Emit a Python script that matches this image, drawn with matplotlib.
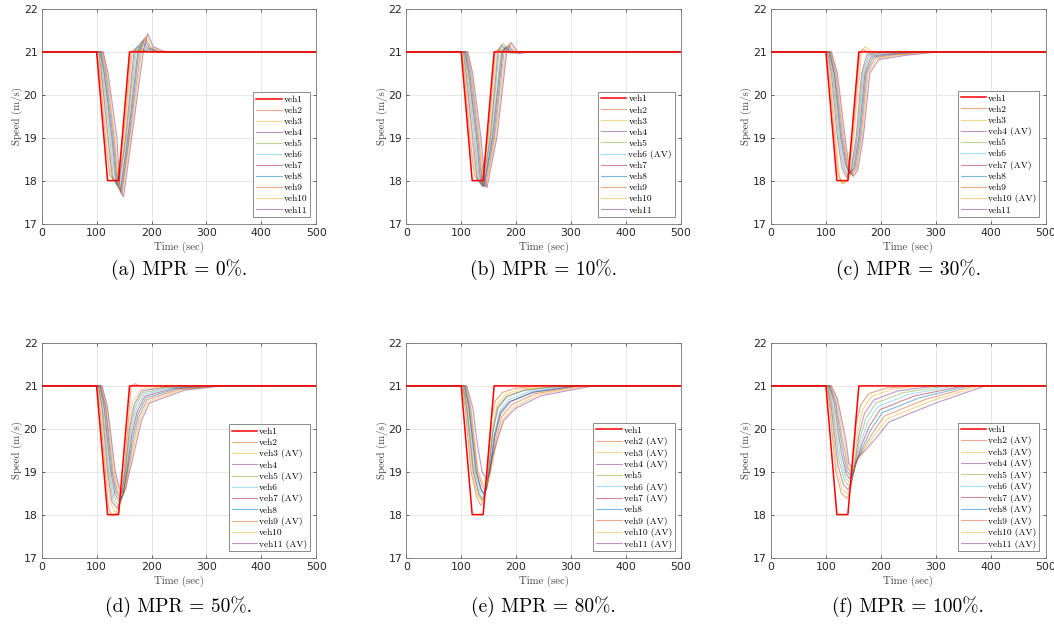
"""Speed profiles of an 11-vehicle platoon for several AV penetration rates (MPR)."""
import matplotlib
matplotlib.use("Agg")
import matplotlib.pyplot as plt

# ---- data ----
# leader (veh1) is the same in every panel
LEAD_T = [0, 100, 120, 140, 160, 500]
LEAD_V = [21, 21, 18, 18, 21, 21]

# panel (a) MPR = 0%, followers veh2..veh11
A_T = [
    [0, 101, 106, 116, 124, 137, 149, 163, 168, 178, 195, 500],
    [0, 102, 108, 119, 127, 139, 151, 165, 171, 181, 198, 500],
    [0, 104, 109, 121, 129, 140, 153, 168, 174, 184, 201, 500],
    [0, 105, 111, 124, 131, 141, 154, 170, 177, 187, 204, 500],
    [0, 106, 113, 126, 134, 143, 156, 172, 180, 190, 207, 500],
    [0, 107, 114, 128, 136, 144, 157, 175, 183, 193, 210, 500],
    [0, 108, 116, 130, 138, 145, 159, 177, 186, 196, 213, 500],
    [0, 110, 118, 132, 140, 146, 160, 180, 188, 198, 216, 500],
    [0, 111, 119, 134, 141, 147, 162, 182, 190, 200, 220, 500],
    [0, 112, 121, 137, 143, 149, 164, 185, 193, 203, 225, 500],
]
A_V = [
    [21, 21, 20.5, 19, 18.12, 17.98, 19, 21, 21.05, 21.02, 21, 21],
    [21, 21, 20.5, 19, 18.08, 17.94, 19, 21, 21.09, 21.03, 21, 21],
    [21, 21, 20.5, 19, 18.04, 17.90, 19, 21, 21.13, 21.04, 21, 21],
    [21, 21, 20.5, 19, 18.00, 17.86, 19, 21, 21.18, 21.05, 21, 21],
    [21, 21, 20.5, 19, 17.96, 17.82, 19, 21, 21.22, 21.07, 21, 21],
    [21, 21, 20.5, 19, 17.92, 17.78, 19, 21, 21.26, 21.08, 21, 21],
    [21, 21, 20.5, 19, 17.88, 17.74, 19, 21, 21.30, 21.09, 21, 21],
    [21, 21, 20.5, 19, 17.84, 17.70, 19, 21, 21.34, 21.10, 21, 21],
    [21, 21, 20.5, 19, 17.80, 17.66, 19, 21, 21.38, 21.11, 21, 21],
    [21, 21, 20.5, 19, 17.76, 17.62, 19, 21, 21.43, 21.12, 21, 21],
]

# panel (b) MPR = 10%
B_T = [
    [0, 101, 106, 116, 124, 135, 149, 162, 167, 177, 190, 500],
    [0, 102, 108, 119, 127, 137, 151, 165, 170, 182, 195, 500],
    [0, 104, 109, 121, 129, 138, 153, 167, 173, 186, 200, 500],
    [0, 105, 111, 124, 131, 139, 154, 169, 176, 189, 205, 500],
    [0, 106, 113, 126, 133, 140, 156, 172, 179, 192, 210, 500],
    [0, 107, 114, 128, 135, 141, 157, 174, 181, 194, 212, 500],
    [0, 108, 116, 130, 137, 142, 159, 176, 184, 197, 215, 500],
    [0, 110, 118, 132, 139, 144, 161, 178, 186, 199, 218, 500],
    [0, 111, 119, 134, 141, 145, 163, 181, 189, 202, 222, 500],
    [0, 112, 121, 136, 143, 147, 165, 183, 191, 205, 228, 500],
]
B_V = [
    [21, 21, 20.5, 19, 18.12, 17.96, 19, 21, 21.06, 21.00, 21, 21],
    [21, 21, 20.5, 19, 18.07, 17.92, 19, 21, 21.11, 20.99, 21, 21],
    [21, 21, 20.5, 19, 18.03, 17.89, 19, 21, 21.16, 20.98, 21, 21],
    [21, 21, 20.5, 19, 18.00, 17.86, 19, 21, 21.20, 20.97, 21, 21],
    [21, 21, 20.5, 19, 17.98, 17.85, 19, 21, 21.12, 20.98, 21, 21],
    [21, 21, 20.5, 19, 17.98, 17.86, 19, 21, 21.10, 20.98, 21, 21],
    [21, 21, 20.5, 19, 17.99, 17.87, 19, 21, 21.13, 20.98, 21, 21],
    [21, 21, 20.5, 19, 17.98, 17.86, 19, 21, 21.16, 20.97, 21, 21],
    [21, 21, 20.5, 19, 17.97, 17.85, 19, 21, 21.19, 20.97, 21, 21],
    [21, 21, 20.5, 19, 17.96, 17.84, 19, 21, 21.22, 20.96, 21, 21],
]

# panel (c) MPR = 30%
C_T = [
    [0, 101, 106, 116, 122, 129, 140, 149, 162, 167, 178, 500],
    [0, 102, 108, 118, 125, 131, 142, 151, 165, 171, 185, 500],
    [0, 103, 110, 121, 129, 137, 145, 155, 165, 175, 195, 240, 500],
    [0, 104, 112, 123, 132, 139, 147, 157, 167, 178, 200, 250, 500],
    [0, 105, 113, 125, 134, 141, 149, 158, 169, 180, 205, 260, 500],
    [0, 106, 115, 127, 136, 143, 151, 160, 171, 183, 215, 270, 500],
    [0, 107, 116, 129, 138, 145, 153, 162, 173, 186, 220, 280, 500],
    [0, 108, 118, 131, 140, 146, 155, 164, 175, 189, 225, 285, 500],
    [0, 109, 119, 133, 141, 148, 156, 166, 177, 192, 235, 295, 500],
    [0, 110, 121, 135, 143, 150, 158, 168, 180, 196, 245, 305, 500],
]
C_V = [
    [21, 21, 20.5, 19, 18.15, 17.94, 18.00, 19, 21, 21.06, 21, 21],
    [21, 21, 20.5, 19, 18.10, 17.92, 18.05, 19, 21, 21.12, 21, 21],
    [21, 21, 20.5, 19, 18.30, 18.08, 18.20, 19, 20.5, 20.95, 20.98, 21, 21],
    [21, 21, 20.5, 19, 18.30, 18.12, 18.25, 19, 20.5, 20.93, 20.97, 21, 21],
    [21, 21, 20.5, 19, 18.30, 18.14, 18.30, 19, 20.5, 20.92, 20.96, 21, 21],
    [21, 21, 20.5, 19, 18.35, 18.16, 18.30, 19, 20.5, 20.90, 20.95, 21, 21],
    [21, 21, 20.5, 19, 18.33, 18.15, 18.30, 19, 20.5, 20.88, 20.94, 21, 21],
    [21, 21, 20.5, 19, 18.30, 18.13, 18.28, 19, 20.5, 20.86, 20.93, 21, 21],
    [21, 21, 20.5, 19, 18.28, 18.11, 18.26, 19, 20.5, 20.84, 20.93, 21, 21],
    [21, 21, 20.5, 19, 18.25, 18.10, 18.24, 19, 20.5, 20.82, 20.92, 21, 21],
]

# panel (d) MPR = 50%
D_T = [
    [0, 101, 106, 116, 122, 128, 140, 150, 163, 170, 180, 500],
    [0, 102, 108, 118, 126, 134, 142, 151, 158, 165, 180, 220, 280, 500],
    [0, 103, 110, 120, 128, 137, 144, 152, 160, 168, 182, 225, 290, 500],
    [0, 104, 111, 122, 130, 139, 146, 153, 161, 170, 184, 230, 300, 500],
    [0, 105, 113, 124, 132, 141, 147, 154, 163, 172, 186, 235, 305, 500],
    [0, 106, 114, 126, 134, 142, 148, 155, 164, 174, 188, 240, 310, 500],
    [0, 107, 116, 128, 136, 144, 149, 156, 166, 176, 190, 245, 315, 500],
    [0, 108, 117, 130, 138, 145, 150, 157, 168, 178, 192, 250, 320, 500],
    [0, 109, 119, 132, 140, 146, 151, 158, 170, 180, 194, 255, 325, 500],
    [0, 110, 120, 134, 142, 148, 153, 160, 172, 182, 196, 260, 330, 500],
]
D_V = [
    [21, 21, 20.5, 19, 18.15, 17.97, 18.05, 19, 21, 21.05, 21, 21],
    [21, 21, 20.5, 19, 18.25, 18.05, 18.20, 19, 20.00, 20.60, 20.92, 20.98, 21, 21],
    [21, 21, 20.5, 19, 18.30, 18.15, 18.30, 19, 20.00, 20.55, 20.88, 20.97, 21, 21],
    [21, 21, 20.5, 19, 18.35, 18.22, 18.35, 19, 19.95, 20.50, 20.84, 20.96, 21, 21],
    [21, 21, 20.5, 19, 18.40, 18.28, 18.40, 19, 19.90, 20.45, 20.80, 20.95, 21, 21],
    [21, 21, 20.5, 19, 18.45, 18.33, 18.45, 19, 19.85, 20.40, 20.76, 20.94, 21, 21],
    [21, 21, 20.5, 19, 18.50, 18.38, 18.48, 19, 19.80, 20.35, 20.72, 20.93, 21, 21],
    [21, 21, 20.5, 19, 18.53, 18.42, 18.52, 19, 19.75, 20.30, 20.68, 20.92, 21, 21],
    [21, 21, 20.5, 19, 18.56, 18.45, 18.55, 19, 19.70, 20.25, 20.64, 20.91, 21, 21],
    [21, 21, 20.5, 19, 18.60, 18.50, 18.60, 19, 19.65, 20.20, 20.60, 20.90, 21, 21],
]

# panel (e) MPR = 80%
E_T = [
    [0, 101, 107, 118, 128, 136, 141, 148, 155, 162, 175, 200, 250, 500],
    [0, 102, 109, 120, 130, 137, 142, 149, 157, 165, 180, 210, 270, 500],
    [0, 103, 110, 122, 132, 138, 143, 150, 158, 167, 183, 215, 285, 500],
    [0, 104, 111, 123, 132, 139, 143, 150, 158, 166, 182, 215, 290, 500],
    [0, 105, 113, 125, 134, 140, 145, 151, 160, 170, 186, 225, 300, 500],
    [0, 106, 114, 127, 136, 141, 146, 152, 161, 172, 189, 230, 310, 500],
    [0, 107, 115, 128, 136, 142, 146, 152, 161, 171, 188, 230, 310, 500],
    [0, 108, 117, 130, 138, 143, 147, 153, 163, 174, 192, 235, 320, 500],
    [0, 109, 118, 131, 139, 144, 148, 154, 165, 176, 195, 240, 330, 500],
    [0, 110, 121, 130, 138, 146, 150, 156, 167, 178, 198, 245, 340, 500],
]
E_V = [
    [21, 21, 20.5, 19, 18.40, 18.22, 18.30, 19, 20.20, 20.65, 20.85, 20.95, 21, 21],
    [21, 21, 20.5, 19, 18.45, 18.30, 18.40, 19, 20.05, 20.55, 20.80, 20.93, 21, 21],
    [21, 21, 20.5, 19, 18.50, 18.37, 18.47, 19, 19.95, 20.48, 20.75, 20.90, 21, 21],
    [21, 21, 20.5, 19, 18.45, 18.33, 18.45, 19, 20.00, 20.50, 20.75, 20.90, 21, 21],
    [21, 21, 20.5, 19, 18.55, 18.45, 18.55, 19, 19.85, 20.40, 20.68, 20.87, 21, 21],
    [21, 21, 20.5, 19, 18.60, 18.50, 18.60, 19, 19.80, 20.35, 20.63, 20.85, 21, 21],
    [21, 21, 20.5, 19, 18.58, 18.47, 18.58, 19, 19.85, 20.38, 20.63, 20.85, 21, 21],
    [21, 21, 20.5, 19, 18.67, 18.58, 18.67, 19, 19.75, 20.28, 20.56, 20.82, 21, 21],
    [21, 21, 20.5, 19, 18.74, 18.65, 18.74, 19, 19.70, 20.22, 20.50, 20.80, 21, 21],
    [21, 21, 20.5, 19.6, 19.00, 18.82, 18.90, 19.3, 19.80, 20.20, 20.47, 20.77, 21, 21],
]

# panel (f) MPR = 100%
F_T = [
    [0, 101, 107, 118, 128, 138, 142, 148, 155, 163, 178, 210, 260, 500],
    [0, 102, 109, 120, 130, 139, 144, 150, 158, 167, 183, 220, 280, 500],
    [0, 103, 110, 122, 132, 140, 145, 151, 160, 170, 187, 230, 300, 500],
    [0, 104, 112, 124, 134, 141, 146, 152, 162, 173, 191, 240, 320, 500],
    [0, 105, 113, 126, 135, 142, 147, 153, 164, 176, 195, 250, 335, 500],
    [0, 106, 115, 128, 137, 143, 148, 154, 166, 179, 199, 260, 350, 500],
    [0, 107, 117, 130, 138, 144, 149, 155, 168, 182, 203, 270, 360, 500],
    [0, 108, 118, 132, 140, 145, 150, 156, 170, 185, 207, 280, 370, 500],
    [0, 109, 120, 134, 141, 146, 151, 157, 172, 188, 211, 290, 380, 500],
    [0, 110, 121, 136, 142, 147, 152, 158, 174, 191, 215, 300, 390, 500],
]
F_V = [
    [21, 21, 20.5, 19.00, 18.50, 18.38, 18.45, 19.00, 20.10, 20.55, 20.82, 20.95, 21, 21],
    [21, 21, 20.5, 19.05, 18.60, 18.48, 18.55, 19.00, 19.95, 20.45, 20.75, 20.92, 21, 21],
    [21, 21, 20.5, 19.15, 18.70, 18.58, 18.65, 19.00, 19.85, 20.35, 20.67, 20.88, 21, 21],
    [21, 21, 20.5, 19.25, 18.80, 18.67, 18.74, 19.05, 19.78, 20.25, 20.60, 20.84, 21, 21],
    [21, 21, 20.55, 19.35, 18.88, 18.76, 18.82, 19.10, 19.70, 20.15, 20.52, 20.80, 21, 21],
    [21, 21, 20.6, 19.45, 18.95, 18.84, 18.90, 19.15, 19.65, 20.06, 20.45, 20.76, 21, 21],
    [21, 21, 20.62, 19.55, 19.02, 18.92, 18.97, 19.20, 19.60, 19.98, 20.38, 20.72, 21, 21],
    [21, 21, 20.65, 19.62, 19.08, 18.98, 19.03, 19.25, 19.57, 19.90, 20.30, 20.68, 21, 21],
    [21, 21, 20.68, 19.70, 19.14, 19.04, 19.08, 19.28, 19.55, 19.84, 20.23, 20.64, 21, 21],
    [21, 21, 20.7, 19.77, 19.20, 19.10, 19.14, 19.32, 19.53, 19.78, 20.16, 20.60, 21, 21],
]

# which followers are automated in each panel
AV_SETS = [[], [6], [4, 7, 10], [3, 5, 7, 9, 11], [2, 3, 4, 6, 7, 9, 10, 11],
           [2, 3, 4, 5, 6, 7, 8, 9, 10, 11]]
CAPTIONS = ["(a) MPR = 0%.", "(b) MPR = 10%.", "(c) MPR = 30%.",
            "(d) MPR = 50%.", "(e) MPR = 80%.", "(f) MPR = 100%."]
PANELS = [(A_T, A_V), (B_T, B_V), (C_T, C_V), (D_T, D_V), (E_T, E_V), (F_T, F_V)]

# MATLAB default line colors, starting at the 2nd one for veh2
MATLAB_COLORS = [(0.850, 0.325, 0.098), (0.929, 0.694, 0.125), (0.494, 0.184, 0.556),
                 (0.466, 0.674, 0.188), (0.301, 0.745, 0.933), (0.635, 0.078, 0.184),
                 (0.000, 0.447, 0.741)]

fig = plt.figure(figsize=(10.54, 6.28), dpi=100)
W, H = 1054, 628
col_left = [41.7, 406.3, 771.0]
row_top = [9, 343]
ax_w, ax_h = 274.5, 214.5

for idx, (ts, vs) in enumerate(PANELS):
    r, c = divmod(idx, 3)
    ax = fig.add_axes([col_left[c] / W, 1 - (row_top[r] + ax_h) / H, ax_w / W, ax_h / H])

    ax.plot(LEAD_T, LEAD_V, color="red", lw=1.1, label="veh1", zorder=3)
    for k in range(10):
        veh = k + 2
        name = f"veh{veh} (AV)" if veh in AV_SETS[idx] else f"veh{veh}"
        ax.plot(ts[k], vs[k], color=MATLAB_COLORS[k % 7], lw=0.8, alpha=0.5, label=name)

    ax.set_xlim(0, 500)
    ax.set_ylim(17, 22)
    ax.set_xticks(range(0, 501, 100))
    ax.set_yticks(range(17, 23))
    ax.grid(True, color="#e3e3e3", lw=0.6)
    ax.set_axisbelow(True)
    ax.tick_params(direction="in", length=2.5, width=0.5, top=True, right=True,
                   labelsize=7.8, colors="#262626", pad=3)
    for sp in ax.spines.values():
        sp.set_color("#777777")
        sp.set_linewidth(0.6)
    ax.set_xlabel("Time (sec)", family="cmr10", fontsize=7.8, color="#404040", labelpad=3)
    ax.set_ylabel("Speed (m/s)", family="cmr10", fontsize=7.8, color="#404040", labelpad=0.5)

    leg = ax.legend(loc="lower right", prop={"family": "cmr10", "size": 6.8},
                    handlelength=2.7, handletextpad=0.2, labelspacing=0.26,
                    borderpad=0.3, borderaxespad=0.65, fancybox=False, framealpha=1)
    leg.get_frame().set_edgecolor("#777777")
    leg.get_frame().set_linewidth(0.6)

    cx = (col_left[c] + ax_w / 2) / W
    cy = 1 - (270 if r == 0 else 607) / H
    fig.text(cx, cy, CAPTIONS[idx], family="cmr10", fontsize=14, ha="center", va="center")

fig.savefig("out.png", dpi=100)
